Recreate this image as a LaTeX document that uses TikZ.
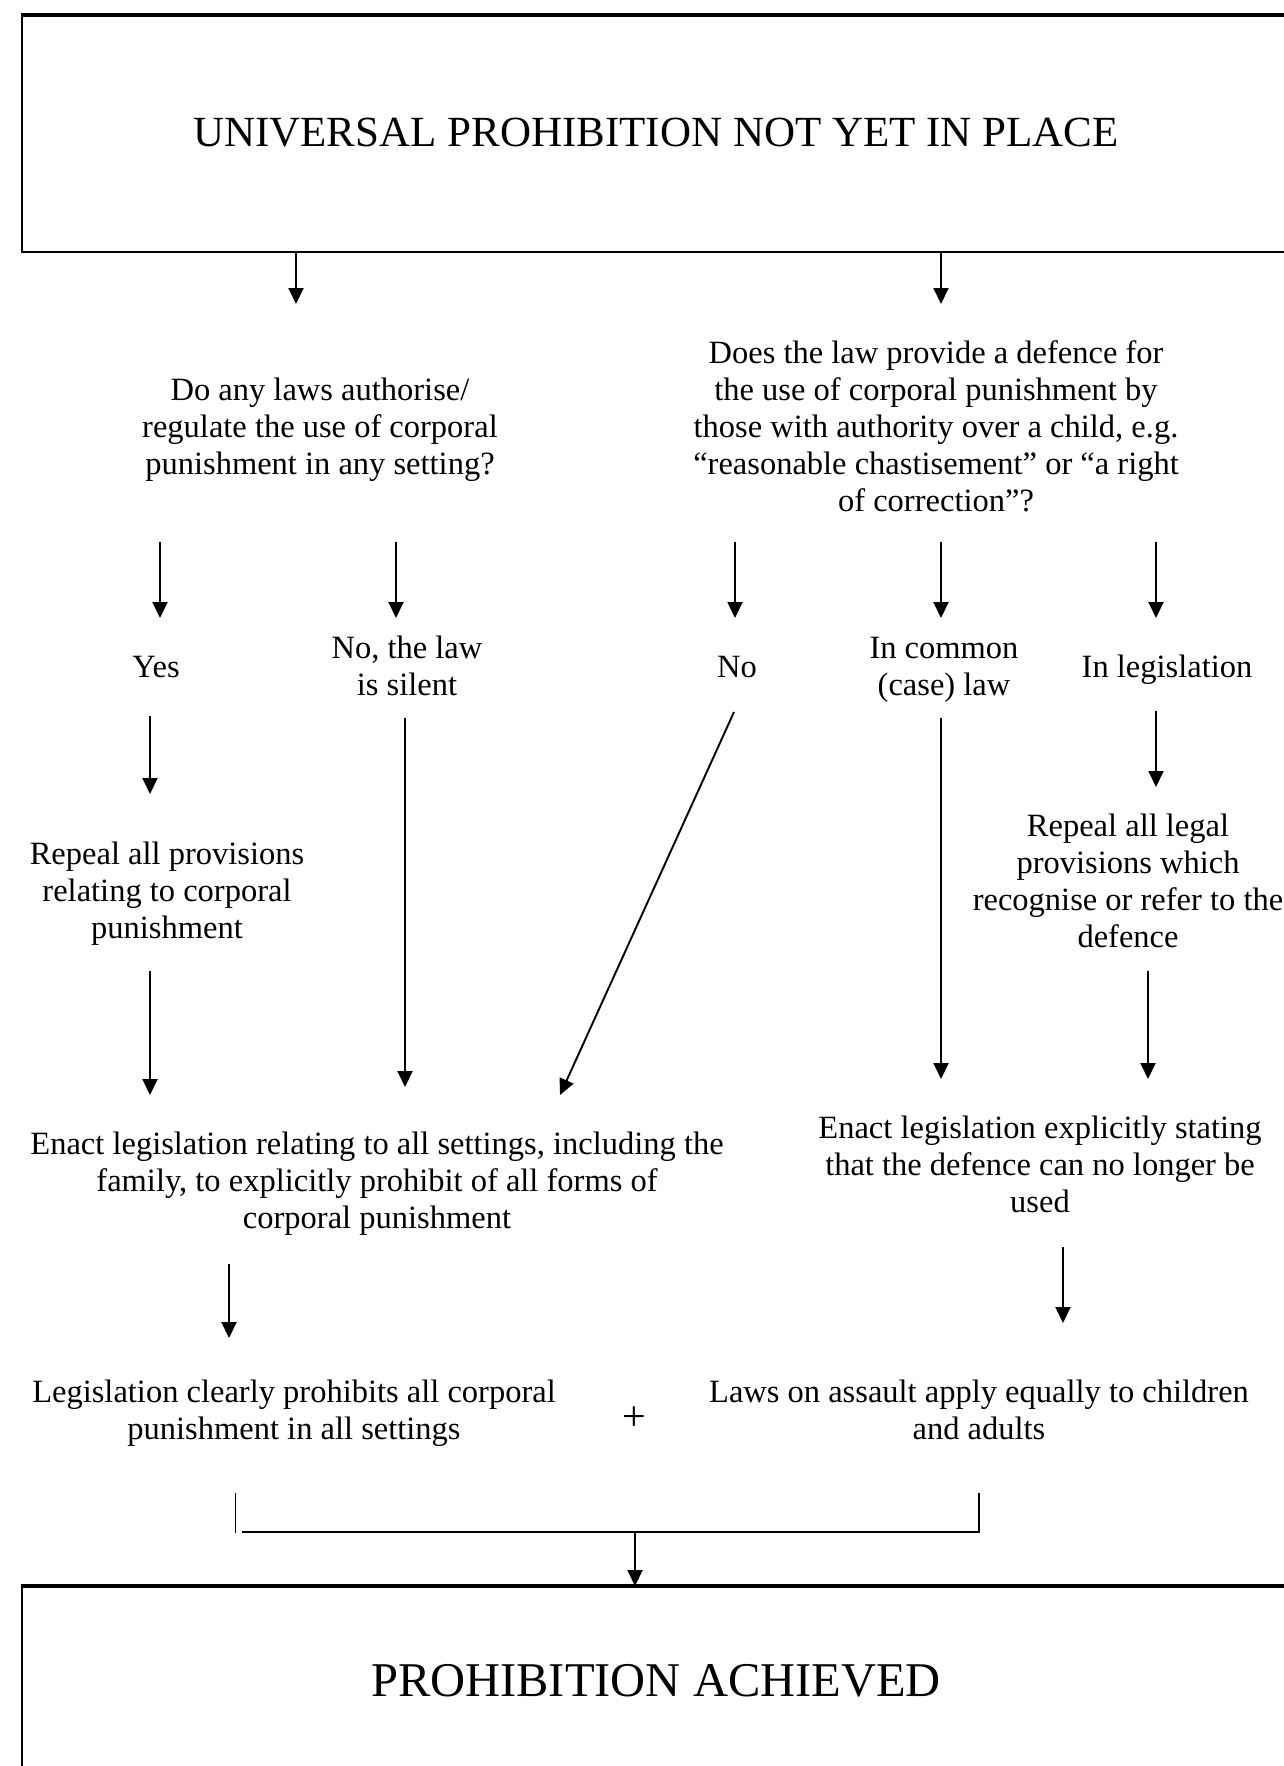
\documentclass[tikz,border=0pt]{standalone}
\usepackage{fontspec}
\setmainfont{Liberation Serif}
\usetikzlibrary{arrows.meta}
\tikzset{
  txt/.style={align=center, inner sep=0pt, font=\fontsize{32.5}{37}\selectfont,
    execute at begin node=\strut, execute at end node=\strut},
  big/.style={inner sep=0pt, font=\fontsize{43}{50}\selectfont},
  bigger/.style={inner sep=0pt, font=\fontsize{48.5}{55}\selectfont},
  plussign/.style={inner sep=0pt, font=\fontsize{42}{48}\selectfont},
  arr/.style={line width=1.9pt, -{Triangle[length=16pt,width=15pt]}},
  plain/.style={line width=1.9pt},
  boxline/.style={line width=2.3pt},
  topline/.style={line width=3.2pt},
}
\begin{document}
\begin{tikzpicture}[x=1pt,y=-1pt]
\useasboundingbox (0,0) rectangle (1284,1766);
\clip (0,0) rectangle (1284,1766);
\fill[white] (0,0) rectangle (1284,1766);

% top box
\node[draw, boxline, minimum width=1270pt, minimum height=236pt, anchor=north west, inner sep=0pt] (topbox) at (20.5,14.5) {};
\draw[topline] (topbox.north west) -- (topbox.north east);
\node[big] (title) at (656,133) {UNIVERSAL PROHIBITION NOT YET IN PLACE};

% bottom box
\node[draw, boxline, minimum width=1270pt, minimum height=200pt, anchor=north west, inner sep=0pt] (botbox) at (20.5,1586) {};
\draw[topline] (botbox.north west) -- (botbox.north east);
\node[bigger] (achieved) at (656,1681) {PROHIBITION ACHIEVED};

% questions
\node[txt] (q1) at (320,431.3) {Do any laws authorise/\\regulate the use of corporal\\punishment in any setting?};
\node[txt] (q2) at (936,431.3) {Does the law provide a defence for\\the use of corporal punishment by\\those with authority over a child, e.g.\\“reasonable chastisement” or “a right\\of correction”?};

% answers
\node[txt] (yes) at (156,670) {Yes};
\node[txt] (silent) at (407,671.3) {No, the law\\is silent};
\node[txt] (no) at (737,670) {No};
\node[txt] (common) at (944,671.8) {In common\\(case) law};
\node[txt] (legis) at (1167,670) {In legislation};

% actions
\node[txt] (repealL) at (167,895.3) {Repeal all provisions\\relating to corporal\\punishment};
\node[txt] (repealR) at (1128,886.5) {Repeal all legal\\provisions which\\recognise or refer to the\\defence};
\node[txt] (enactL) at (377,1185.8) {Enact legislation relating to all settings, including the\\family, to explicitly prohibit of all forms of\\corporal punishment};
\node[txt] (enactR) at (1040,1170.2) {Enact legislation explicitly stating\\that the defence can no longer be\\used};
\node[txt] (clear) at (294,1415.2) {Legislation clearly prohibits all corporal\\punishment in all settings};
\node[plussign] (plus) at (634,1418.5) {+};
\node[txt] (assault) at (979,1415.2) {Laws on assault apply equally to children\\and adults};

% connectors
\coordinate (t1) at (296,304);
\coordinate (t2) at (941,304);
\draw[arr] (topbox.south -| t1) -- (t1);
\draw[arr] (topbox.south -| t2) -- (t2);

\draw[arr] (160,542) coordinate (s3) -- (160,618) coordinate (e3);
\draw[arr] (396,542) coordinate (s4) -- (396,618) coordinate (e4);
\draw[arr] (735,542) coordinate (s5) -- (735,618) coordinate (e5);
\draw[arr] (941,542) coordinate (s6) -- (941,618) coordinate (e6);
\draw[arr] (1156,542) coordinate (s7) -- (1156,618) coordinate (e7);

\draw[arr] (150,716) coordinate (s8) -- (150,794) coordinate (e8);
\draw[arr] (405,718) coordinate (s9) -- (405,1087) coordinate (e9);
\draw[arr] (734,712) coordinate (s10) -- (560,1095) coordinate (e10);
\draw[arr] (941,718) coordinate (s11) -- (941,1079) coordinate (e11);
\draw[arr] (1156,711) coordinate (s12) -- (1156,787) coordinate (e12);

\draw[arr] (150,971) coordinate (s13) -- (150,1095) coordinate (e13);
\draw[arr] (1148,971) coordinate (s14) -- (1148,1079) coordinate (e14);

\draw[arr] (229,1264) coordinate (s15) -- (229,1338) coordinate (e15);
\draw[arr] (1063,1247) coordinate (s16) -- (1063,1323) coordinate (e16);

% bracket
\coordinate (bl) at (235.5,1493);
\coordinate (br) at (979,1493);
\coordinate (bm) at (635,1532);
\draw[plain] (bl) -- (235.5,1533);
\draw[plain] (242,1532) -- (979,1532) -- (br);
\draw[arr] (bm) -- (botbox.north -| bm);
\end{tikzpicture}
\end{document}
